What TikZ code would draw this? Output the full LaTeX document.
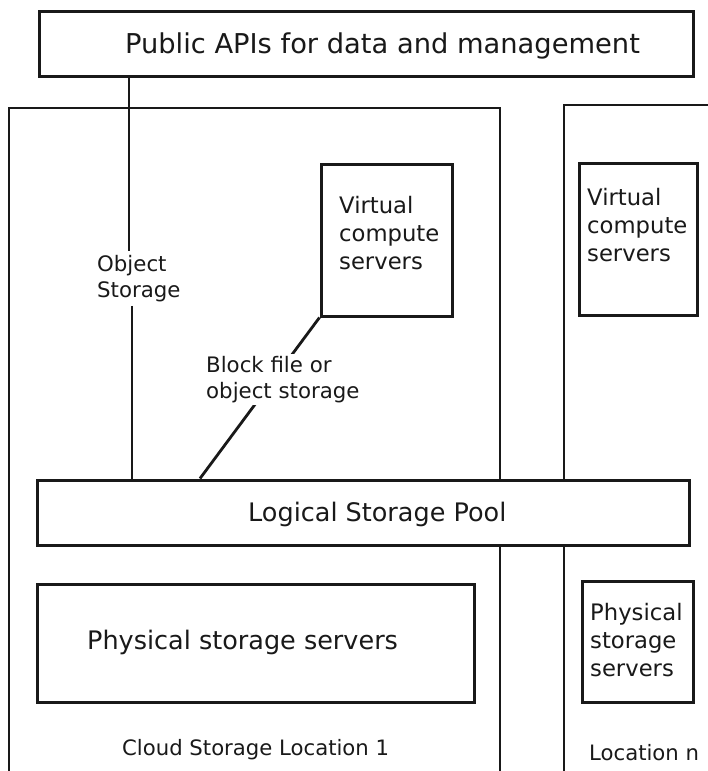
\documentclass[tikz,border=0pt]{standalone}
\usepackage{fontspec}
\setmainfont{DejaVu Sans}
\begin{document}
\begin{tikzpicture}[x=1pt,y=-1pt,
  box/.style={draw=black!90, line width=3pt, fill=white, inner sep=0pt},
  txt/.style={inner sep=0pt, text=black!90},
  bigfont/.style={font=\fontsize{27.3}{33}\selectfont},
  midfont/.style={font=\fontsize{25.5}{31}\selectfont},
  smfont/.style={font=\fontsize{22.7}{28}\selectfont},
  locfont/.style={font=\fontsize{21.2}{26}\selectfont},
  lblfont/.style={font=\fontsize{21.3}{26.5}\selectfont},
  conn/.style={line width=2.8pt, draw=black!90}]
\useasboundingbox (0,0) rectangle (708,771);
\clip (0,0) rectangle (708,771);
% location frames (open at the bottom / right)
\draw[conn] (9,800) -- (9,108) -- (500,108) -- (500,800);
\draw[conn] (564,800) -- (564,105) -- (740,105);
% boxes
\node[box, minimum width=654, minimum height=65] (api) at (366,43.5) {};
\node[txt, bigfont, anchor=base] (apitxt) at (382.5,53.5) {Public APIs for data and management};
\node[box, minimum width=652, minimum height=65] (pool) at (363,512.5) {};
\node[txt, midfont, anchor=base west] (pooltxt) at (248,521) {Logical Storage Pool};
\node[box, minimum width=131, minimum height=152] (vc1) at (386.5,240) {};
\node[txt, smfont, align=left, anchor=north west] (vc1txt) at (339,196) {Virtual\\compute\\servers};
\node[box, minimum width=118, minimum height=152] (vcn) at (638,239) {};
\node[txt, smfont, align=left, anchor=north west] (vcntxt) at (587,188) {Virtual\\compute\\servers};
\node[box, minimum width=437, minimum height=118] (ph1) at (255.5,643) {};
\node[txt, midfont, anchor=base west] (ph1txt) at (87,649) {Physical storage servers};
\node[box, minimum width=111, minimum height=121] (phn) at (637.5,641.5) {};
\node[txt, smfont, align=left, anchor=north west] (phntxt) at (590,603) {Physical\\storage\\servers};
\node[txt, locfont, anchor=base west] (loc1) at (122,755) {Cloud Storage Location 1};
\node[txt, locfont, anchor=base west] (locn) at (589,760) {Location n};
% connectors
\coordinate (o1) at (129,0);
\coordinate (o2) at (132,0);
\coordinate (b0) at (200,0);
\node[txt, lblfont, align=left, anchor=north west, inner ysep=3.5pt] (objlbl) at (97,251.3) {Object\\Storage};
\draw[conn] (api.south -| o1) -- (objlbl.north -| o1);
\draw[conn] (objlbl.south -| o2) -- (pool.north -| o2);
\draw[conn] (vc1.south west) -- (pool.north -| b0);
\node[txt, lblfont, align=left, anchor=north west, inner sep=2pt, fill=white] (blklbl) at (204,353.8) {Block file or\\object storage};
\end{tikzpicture}
\end{document}
